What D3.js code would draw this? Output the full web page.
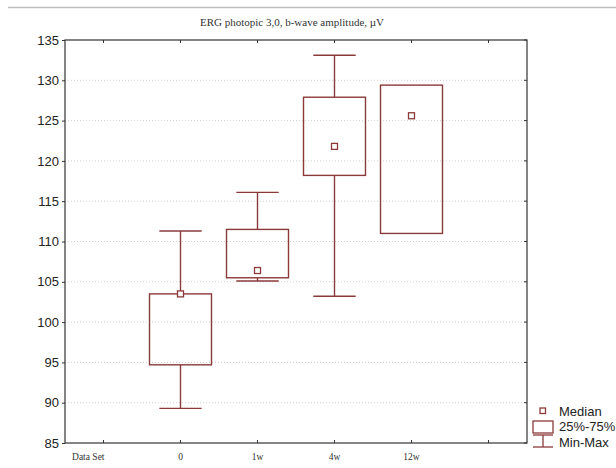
<!DOCTYPE html>
<html>
<head>
<meta charset="utf-8">
<script src="https://cdn.jsdelivr.net/npm/d3@7"></script>
<style>
  body { margin: 0; background: #fff; }
  svg { display: block; }
</style>
</head>
<body>
<div id="chart"></div>
<script>
// x positions: first slot is the "Data Set" label, last one is empty
const xCategories = ["Data Set", "0", "1w", "4w", "12w", ""];
const groups = ["0", "1w", "4w", "12w"];
const mins    = [89.3, 105.1, 103.2, 111.0];
const q1s     = [94.7, 105.5, 118.2, 111.0];
const medians = [103.5, 106.4, 121.8, 125.6];
const q3s     = [103.5, 111.5, 127.9, 129.4];
const maxs    = [111.3, 116.1, 133.1, 129.4];
const yTicks = [85, 90, 95, 100, 105, 110, 115, 120, 125, 130, 135];
const legendItems = ["Median", "25%-75%", "Min-Max"];

const W = 616, H = 468;
const plot = {left: 65, right: 527, top: 40, bottom: 443};
const boxColor = "#8b3a3a";

const svg = d3.select("#chart")
  .append("svg")
  .attr("width", W)
  .attr("height", H);

// thin grey rule across the top of the picture
svg.append("line")
  .attr("x1", 8).attr("x2", W)
  .attr("y1", 7.5).attr("y2", 7.5)
  .attr("stroke", "#bdbdbd")
  .attr("stroke-width", 1.5);

svg.append("text")
  .attr("x", 292)
  .attr("y", 26)
  .attr("text-anchor", "middle")
  .attr("font-family", "Liberation Serif, Times New Roman, serif")
  .attr("font-size", 11)
  .attr("fill", "#333")
  .text("ERG photopic 3,0, b-wave amplitude, µV");

const x = d3.scaleBand()
  .domain(xCategories)
  .range([plot.left, plot.right]);

const y = d3.scaleLinear()
  .domain([85, 135])
  .range([plot.bottom, plot.top]);

// dotted grid
svg.append("g")
  .selectAll("line")
  .data(yTicks.slice(1, -1))
  .join("line")
    .attr("x1", plot.left).attr("x2", plot.right)
    .attr("y1", d => y(d)).attr("y2", d => y(d))
    .attr("stroke", "#cfcfcf")
    .attr("stroke-width", 1)
    .attr("stroke-dasharray", "1,2");

// y axis (ticks outward)
const yAxis = svg.append("g")
  .attr("transform", `translate(${plot.left},0)`)
  .call(d3.axisLeft(y).tickValues(yTicks).tickSize(3).tickPadding(3));
yAxis.select(".domain").remove();
yAxis.selectAll("line").attr("stroke", "#333");
yAxis.selectAll("text")
  .attr("font-family", "Liberation Sans, Arial, sans-serif")
  .attr("font-size", 13)
  .attr("fill", "#222");

// ticks on the right border, pointing in
svg.append("g")
  .selectAll("line")
  .data(yTicks)
  .join("line")
    .attr("x1", plot.right - 3).attr("x2", plot.right)
    .attr("y1", d => y(d)).attr("y2", d => y(d))
    .attr("stroke", "#333");

// x axis (ticks pointing into the plot)
const xAxis = svg.append("g")
  .attr("transform", `translate(0,${plot.bottom})`)
  .call(d3.axisBottom(x).tickSize(-3).tickPadding(10));
xAxis.select(".domain").remove();
xAxis.selectAll("line").attr("stroke", "#333");
xAxis.selectAll("text")
  .attr("font-family", "Liberation Serif, Times New Roman, serif")
  .attr("font-size", 9.5)
  .attr("fill", "#333");
xAxis.selectAll("text")
  .filter(d => d === "Data Set")
  .attr("text-anchor", "end")
  .attr("dx", 1);

// top ticks pointing down
svg.append("g")
  .selectAll("line")
  .data(xCategories)
  .join("line")
    .attr("x1", d => x(d) + x.bandwidth() / 2)
    .attr("x2", d => x(d) + x.bandwidth() / 2)
    .attr("y1", plot.top).attr("y2", plot.top + 3)
    .attr("stroke", "#333");

// plot frame
svg.append("rect")
  .attr("x", plot.left).attr("y", plot.top)
  .attr("width", plot.right - plot.left)
  .attr("height", plot.bottom - plot.top)
  .attr("fill", "none")
  .attr("stroke", "#333")
  .attr("stroke-width", 1.2);

// boxes
const boxW = x.bandwidth() * 0.805;
const capW = x.bandwidth() * 0.55;
const boxes = groups.map((g, i) => ({
  g: g, min: mins[i], q1: q1s[i], med: medians[i], q3: q3s[i], max: maxs[i]
}));

const bg = svg.append("g")
  .selectAll("g")
  .data(boxes)
  .join("g")
    .attr("transform", d => `translate(${x(d.g) + x.bandwidth() / 2},0)`)
    .attr("stroke", boxColor)
    .attr("stroke-width", 1.4)
    .attr("fill", "none");

// whiskers
bg.append("line")
  .attr("x1", 0).attr("x2", 0)
  .attr("y1", d => y(d.q3)).attr("y2", d => y(d.max));
bg.append("line")
  .attr("x1", 0).attr("x2", 0)
  .attr("y1", d => y(d.q1)).attr("y2", d => y(d.min));
bg.filter(d => d.max > d.q3).append("line")
  .attr("x1", -capW / 2).attr("x2", capW / 2)
  .attr("y1", d => y(d.max)).attr("y2", d => y(d.max));
bg.filter(d => d.min < d.q1).append("line")
  .attr("x1", -capW / 2).attr("x2", capW / 2)
  .attr("y1", d => y(d.min)).attr("y2", d => y(d.min));

bg.append("rect")
  .attr("x", -boxW / 2)
  .attr("width", boxW)
  .attr("y", d => y(d.q3))
  .attr("height", d => y(d.q1) - y(d.q3));

bg.append("rect")
  .attr("x", -3).attr("width", 6)
  .attr("y", d => y(d.med) - 3).attr("height", 6)
  .attr("fill", "#fff")
  .attr("stroke-width", 1.3);

// legend
const leg = svg.append("g")
  .attr("stroke", boxColor)
  .attr("stroke-width", 1.3)
  .attr("fill", "none");
leg.append("rect")
  .attr("x", 540).attr("y", 408).attr("width", 5.5).attr("height", 5.5)
  .attr("fill", "#fff");
leg.append("rect")
  .attr("x", 533).attr("y", 421).attr("width", 20).attr("height", 12);
leg.append("line").attr("x1", 533).attr("x2", 553).attr("y1", 435).attr("y2", 435);
leg.append("line").attr("x1", 543).attr("x2", 543).attr("y1", 435).attr("y2", 447);
leg.append("line").attr("x1", 533).attr("x2", 553).attr("y1", 447).attr("y2", 447);

svg.append("g")
  .selectAll("text")
  .data(legendItems)
  .join("text")
    .attr("x", 559)
    .attr("y", (d, i) => 411 + i * 15.5)
    .attr("dy", "0.36em")
    .attr("font-family", "Liberation Sans, Arial, sans-serif")
    .attr("font-size", 13)
    .attr("fill", "#222")
    .text(d => d);
</script>
</body>
</html>
